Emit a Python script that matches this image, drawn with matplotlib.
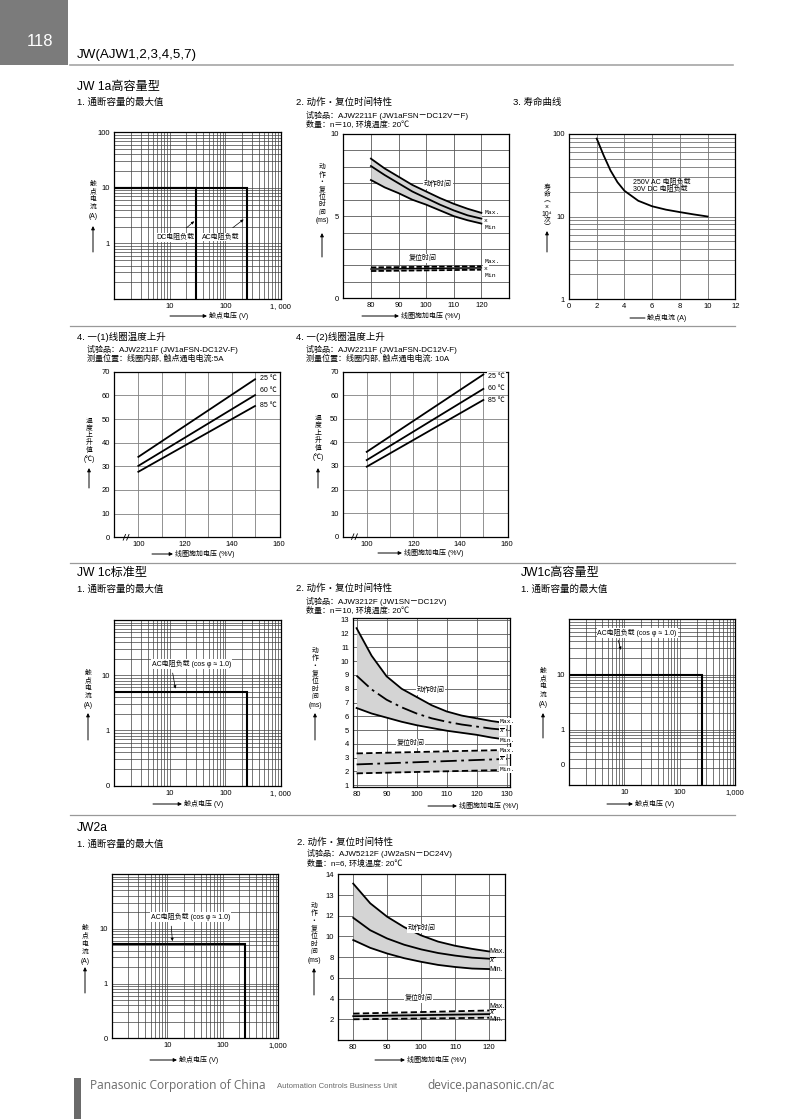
import numpy as np
import matplotlib.pyplot as plt
from matplotlib.patches import Rectangle, FancyArrowPatch
from matplotlib.lines import Line2D
from matplotlib.ticker import FixedLocator, NullFormatter

plt.rcParams['font.family'] = ['Liberation Sans', 'Noto Sans CJK SC']
plt.rcParams['axes.unicode_minus'] = False

# ---------------- data ----------------
# JW1a high capacity: max switching capacity (V, A)
dc1a_v = [1, 30, 30]
dc1a_i = [10, 10, 0.1]
ac1a_v = [1, 250, 250]
ac1a_i = [10, 10, 0.1]

# JW1a operate / release time (ms) vs coil voltage (%V)
v1a = [80, 85, 90, 95, 100, 105, 110, 115, 120]
op1a_max = [8.5, 7.9, 7.4, 6.9, 6.5, 6.1, 5.75, 5.45, 5.2]
op1a_avg = [8.05, 7.5, 7.0, 6.5, 6.1, 5.7, 5.35, 5.05, 4.85]
op1a_min = [7.2, 6.75, 6.4, 6.0, 5.7, 5.35, 5.0, 4.75, 4.55]
v1a_rel = [80, 120]
rel1a_max = [1.88, 1.95]
rel1a_avg = [1.78, 1.85]
rel1a_min = [1.66, 1.74]

# JW1a life curve
life_i = [2, 2.5, 3, 3.5, 4, 5, 6, 7, 8, 9, 10]
life_n = [88, 55, 36, 26, 20.5, 15.5, 13.3, 12.1, 11.3, 10.6, 10.0]

# coil temperature rise (deg C) vs coil voltage (%V)
v_coil = [100, 150]
rise5_25 = [34, 66.8]
rise5_60 = [30.2, 60.1]
rise5_85 = [27.7, 55.5]
rise10_25 = [36, 68.8]
rise10_60 = [32.5, 62.7]
rise10_85 = [29.7, 58.0]
temp_names = ['25 ℃', '60 ℃', '85 ℃']

# JW1c standard: max switching capacity
ac1c_v = [1, 250, 250]
ac1c_i = [5, 5, 0.1]

# JW1c operate / release time
v1c = [80, 85, 90, 95, 100, 105, 110, 115, 120, 125, 130]
op1c_max = [12.4, 10.4, 8.9, 8.0, 7.4, 6.8, 6.35, 6.05, 5.85, 5.65, 5.5]
op1c_avg = [8.95, 7.95, 7.2, 6.65, 6.2, 5.85, 5.6, 5.4, 5.25, 5.1, 5.0]
op1c_min = [6.6, 6.2, 5.9, 5.6, 5.35, 5.15, 4.95, 4.8, 4.65, 4.45, 4.3]
v1c_rel = [80, 130]
rel1c_max = [3.3, 3.55]
rel1c_avg = [2.5, 2.9]
rel1c_min = [1.85, 2.1]

# JW1c high capacity
ac1ch_v = [1, 250, 250]
ac1ch_i = [10, 10, 0.1]

# JW2a capacity
ac2a_v = [1, 250, 250]
ac2a_i = [5.2, 5.2, 0.1]

# JW2a operate / release time (positions on the printed scale)
v2a = [80, 85, 90, 95, 100, 105, 110, 115, 120]
op2a_max = [15.1, 13.2, 11.9, 10.9, 10.1, 9.5, 9.1, 8.8, 8.55]
op2a_avg = [11.8, 10.6, 9.8, 9.2, 8.75, 8.4, 8.15, 7.95, 7.85]
op2a_min = [9.65, 8.9, 8.35, 7.9, 7.55, 7.25, 7.05, 6.9, 6.85]
v2a_rel = [80, 120]
rel2a_max = [2.55, 2.85]
rel2a_avg = [2.3, 2.5]
rel2a_min = [2.0, 2.15]
ytick2a = [2, 4, 6, 8, 10, 12, 14, 16]
ylab2a = ['2', '4', '6', '8', '10', '12', '13', '14']

# vertical axis captions, one glyph group per line
cap_current = ['触', '点', '电', '流', '(A)']
cap_time = ['动', '作', '・', '复', '位', '时', '间', '(ms)']
cap_life = ['寿', '命', '︵', '×', '10⁴', '次', '︶']
cap_temp = ['温', '度', '上', '升', '值', '(℃)']

# ---------------- layout helpers ----------------
W, H = 800, 1119
fig = plt.figure(figsize=(8, 11.19), dpi=100)
fig.patch.set_facecolor('white')


def to_fig(x, y):
    return x / W, 1 - y / H


def panel(l, t, r, b):
    ax = fig.add_axes([l / W, 1 - b / H, (r - l) / W, (b - t) / H])
    for s in ax.spines.values():
        s.set_linewidth(0.9)
    ax.tick_params(which='both', length=0, labelsize=5.5, pad=3)
    ax.set_axisbelow(True)
    ax.xaxis.remove_overlapping_locs = False
    ax.yaxis.remove_overlapping_locs = False
    return ax


def gridlines(ax, xs, ys, color='0.3', lw=0.5):
    ax.xaxis.set_minor_locator(FixedLocator(xs))
    ax.yaxis.set_minor_locator(FixedLocator(ys))
    ax.xaxis.set_minor_formatter(NullFormatter())
    ax.yaxis.set_minor_formatter(NullFormatter())
    ax.grid(which='minor', color=color, lw=lw)
    ax.grid(which='major', visible=False)


def ftext(x, y, s, size=6, ha='left', **kw):
    fig.text(x / W, 1 - y / H, s, fontsize=size, ha=ha, va='center', **kw)


def farrow(x0, y0, x1, y1, head=True):
    fig.add_artist(FancyArrowPatch(to_fig(x0, y0), to_fig(x1, y1),
                                   transform=fig.transFigure,
                                   arrowstyle='-|>' if head else '-',
                                   mutation_scale=5, lw=0.7, color='k',
                                   shrinkA=0, shrinkB=0))


def vlabel(x, y0, step, parts, arrow):
    for k, p in enumerate(parts):
        extra = 1.5 if p.startswith('(') and len(p) > 1 else 0
        ftext(x, y0 + k * step + extra, p, size=4.9, ha='center')
    farrow(x, arrow[0], x, arrow[1])


def hlabel(x0, x1, y, s, head=True):
    farrow(x0, y, x1, y, head)
    ftext(x1 + 2, y, s, size=5)


def hline(y, x0=70, x1=735, color='0.6', lw=0.9):
    fig.add_artist(Line2D([x0 / W, x1 / W], [1 - y / H] * 2, color=color, lw=lw))


log_x = [m * 10.0 ** e for e in range(0, 3) for m in range(1, 10)] + [1000]
log_y = [m * 10.0 ** e for e in range(-1, 2) for m in range(1, 10)] + [100]
log_life = [m * 10.0 ** e for e in range(0, 2) for m in range(1, 10)] + [100]
white = dict(facecolor='white', edgecolor='none', pad=0.6)


def capacity(box, yt, yl, xl):
    ax = panel(*box)
    ax.set_xscale('log')
    ax.set_yscale('log')
    ax.set_xlim(1, 1000)
    ax.set_ylim(0.1, 100)
    ax.set_xticks([10, 100, 1000], xl)
    ax.set_yticks(yt, yl)
    gridlines(ax, log_x, log_y, color='0.25', lw=0.5)
    return ax


# ---------------- header / footer ----------------
fig.add_artist(Rectangle(to_fig(0, 65), 68 / W, 65 / H, transform=fig.transFigure,
                         facecolor='#7b7b7b', edgecolor='none'))
ftext(40, 41, '118', size=12, ha='center', color='white')
ftext(77, 55, 'JW(AJW1,2,3,4,5,7)', size=9.6)
hline(65, 70, 733, color='0.65', lw=1.2)
hline(326)
hline(563)
hline(815)

fig.add_artist(Rectangle(to_fig(74, 1119), 7 / W, 41 / H, transform=fig.transFigure,
                         facecolor='#6a6a6a', edgecolor='none'))
ftext(90, 1086, 'Panasonic Corporation of China', size=8.6, color='0.42', family='Open Sans')
ftext(277, 1086, 'Automation Controls Business Unit', size=5.6, color='0.42')
ftext(427, 1086, 'device.panasonic.cn/ac', size=8.6, color='0.42', family='Open Sans')

# ---------------- JW1a high capacity ----------------
ftext(77, 87, 'JW 1a高容量型', size=8.7)
ftext(77, 102, '1. 通断容量的最大值', size=6.8)

ax = capacity((114.3, 132.3, 280.7, 299), [1, 10, 100], ['1', '10', '100'], ['10', '100', '1, 000'])
ax.plot(dc1a_v, dc1a_i, color='k', lw=1.5, solid_joinstyle='miter')
ax.plot(ac1a_v, ac1a_i, color='k', lw=1.5, solid_joinstyle='miter')
ax.annotate('DC电阻负载', xy=(30, 2.7), xytext=(12.5, 1.27), fontsize=5, ha='center', va='center',
            bbox=white, arrowprops=dict(arrowstyle='-|>', lw=0.5, color='k', mutation_scale=4, shrinkA=6))
ax.annotate('AC电阻负载', xy=(235, 2.9), xytext=(82, 1.3), fontsize=5, ha='center', va='center',
            bbox=white, arrowprops=dict(arrowstyle='-|>', lw=0.5, color='k', mutation_scale=4, shrinkA=6))
vlabel(93, 184.5, 7.6, cap_current, (252, 226))
hlabel(170, 207, 316, '触点电压 (V)')

# operate / release time JW1a
ftext(296, 102, '2. 动作・复位时间特性', size=6.8)
ftext(306, 115, '试验品：AJW2211F (JW1aFSN－DC12V－F)', size=5.8)
ftext(306, 125, '数量：n＝10, 环境温度: 20℃', size=5.8)

ax = panel(343.3, 134, 509, 298.3)
ax.set_xlim(70, 130)
ax.set_ylim(0, 10)
ax.set_xticks([80, 90, 100, 110, 120])
ax.set_yticks([0, 5, 10])
gridlines(ax, [80, 90, 100, 110, 120], list(range(0, 11)), color='0.35', lw=0.6)
ax.fill_between(v1a, op1a_min, op1a_max, color='#d4d4d4', lw=0)
for ys in (op1a_max, op1a_avg, op1a_min):
    ax.plot(v1a, ys, color='k', lw=1.3)
ax.fill_between(v1a_rel, rel1a_min, rel1a_max, color='#d4d4d4', lw=0)
ax.plot(v1a_rel, rel1a_max, color='k', lw=1.3, ls=(0, (3, 1.2)))
ax.plot(v1a_rel, rel1a_avg, color='k', lw=1.0)
ax.plot(v1a_rel, rel1a_min, color='k', lw=1.3, ls=(0, (3, 1.2)))
ax.text(104.2, 6.95, '动作时间', fontsize=5, ha='center', va='center', bbox=white)
ax.text(98.8, 2.45, '复位时间', fontsize=5, ha='center', va='center', bbox=white)
for yv, s in zip([5.2, 4.72, 4.3, 2.25, 1.83, 1.38], ['Max.', 'x', 'Min', 'Max.', 'x', 'Min']):
    ax.text(121, yv, s, fontsize=4.6, family='Liberation Mono', va='center', bbox=white)
vlabel(322, 167.7, 7.4, cap_time, (257, 233))
hlabel(362, 399, 316, '线圈施加电压 (%V)')

# life curve
ftext(513, 102, '3. 寿命曲线', size=6.8)
ax = panel(569, 134, 735.3, 299)
ax.set_yscale('log')
ax.set_xlim(0, 12)
ax.set_ylim(1, 100)
ax.set_xticks(list(range(0, 13, 2)))
ax.set_yticks([1, 10, 100], ['1', '10', '100'])
gridlines(ax, [2, 4, 6, 8, 10], log_life, color='0.45', lw=0.6)
ax.plot(life_i, life_n, color='k', lw=1.3)
ax.text(4.65, 23.5, '250V AC 电阻负载\n30V DC 电阻负载', fontsize=5, va='center', linespacing=1.0)
vlabel(547, 188, 6.6, cap_life, (252, 231))
hlabel(630, 645, 318, '触点电流 (A)', head=False)


# ---------------- coil temperature rise ----------------
def temp_panel(box, rises, label_y):
    ax = panel(*box)
    ax.set_xlim(89.7, 160.7)
    ax.set_ylim(0, 70)
    ax.set_xticks([100, 120, 140, 160])
    ax.set_yticks(list(range(0, 71, 10)))
    gridlines(ax, [100, 110, 120, 130, 140, 150], list(range(10, 70, 10)), color='0.5', lw=0.6)
    for r, name, ly in zip(rises, temp_names, label_y):
        ax.plot(v_coil, r, color='k', lw=1.3)
        ax.text(152, ly, name, fontsize=5, va='center', bbox=white)
    # axis break mark
    ax.plot([93.5, 94.5], [-1.2, 1.2], color='k', lw=0.6, clip_on=False)
    ax.plot([95, 96], [-1.2, 1.2], color='k', lw=0.6, clip_on=False)
    return ax


ftext(77, 337, '4. 一(1)线圈温度上升', size=6.8)
ftext(87, 349, '试验品：AJW2211F (JW1aFSN-DC12V-F)', size=5.8)
ftext(87, 359, '测量位置：线圈内部, 触点通电电流:5A', size=5.8)
temp_panel((114.3, 371.7, 280, 537.3), [rise5_25, rise5_60, rise5_85], [67.2, 62, 55.9])
vlabel(89, 421, 7.3, cap_temp, (488, 468))
hlabel(152, 173, 554, '线圈施加电压 (%V)')

ftext(296, 337, '4. 一(2)线圈温度上升', size=6.8)
ftext(306, 349, '试验品：AJW2211F (JW1aFSN-DC12V-F)', size=5.8)
ftext(306, 359, '测量位置：线圈内部, 触点通电电流: 10A', size=5.8)
temp_panel((342.7, 371.7, 508.3, 536.7), [rise10_25, rise10_60, rise10_85], [67.9, 62.9, 57.6])
vlabel(318, 418.5, 7.4, cap_temp, (488, 468))
hlabel(378, 402, 553, '线圈施加电压 (%V)')

# ---------------- JW1c standard ----------------
ftext(77, 573, 'JW 1c标准型', size=8.7)
ftext(77, 589, '1. 通断容量的最大值', size=6.8)
ax = capacity((114.3, 620, 280.7, 785.7), [0.1, 1, 10], ['0', '1', '10'], ['10', '100', '1, 000'])
ax.plot(ac1c_v, ac1c_i, color='k', lw=1.5, solid_joinstyle='miter')
ax.annotate('AC电阻负载 (cos φ ≈ 1.0)', xy=(12.9, 5.1), xytext=(24.8, 15.9), fontsize=5,
            ha='center', va='center', bbox=white,
            arrowprops=dict(arrowstyle='-|>', lw=0.5, color='k', mutation_scale=4,
                            shrinkA=3, relpos=(0.25, 0)))
vlabel(88, 673.5, 7.7, cap_current, (740, 713))
hlabel(153, 182, 804, '触点电压 (V)')

ftext(296, 588, '2. 动作・复位时间特性', size=6.8)
ftext(306, 601, '试验品：AJW3212F (JW1SN－DC12V)', size=5.8)
ftext(306, 611, '数量：n＝10, 环境温度: 20℃', size=5.8)
ax = panel(353.3, 618.3, 510, 786.7)
ax.set_xlim(78.9, 131.1)
ax.set_ylim(0.88, 13.12)
ax.set_xticks(list(range(80, 131, 10)))
ax.set_yticks(list(range(1, 14)))
gridlines(ax, list(range(80, 131, 10)), list(range(1, 14)), color='0.35', lw=0.6)
dashdot = (0, (9, 2.5, 1.5, 2.5))
ax.fill_between(v1c, op1c_min, op1c_max, color='#d4d4d4', lw=0)
ax.plot(v1c, op1c_max, color='k', lw=1.3)
ax.plot(v1c, op1c_avg, color='k', lw=1.3, ls=dashdot)
ax.plot(v1c, op1c_min, color='k', lw=1.3)
ax.fill_between(v1c_rel, rel1c_min, rel1c_max, color='#d4d4d4', lw=0)
ax.plot(v1c_rel, rel1c_max, color='k', lw=1.3, ls=(0, (3.5, 1.8)))
ax.plot(v1c_rel, rel1c_avg, color='k', lw=1.3, ls=dashdot)
ax.plot(v1c_rel, rel1c_min, color='k', lw=1.3, ls=(0, (3.5, 1.8)))
ax.text(104.6, 7.85, '动作时间', fontsize=5, ha='center', va='center', bbox=white)
ax.text(97.9, 4.0, '复位时间', fontsize=5, ha='center', va='center', bbox=white)
for yv, s in zip([5.6, 4.95, 4.27, 3.5, 2.87, 2.14],
                 ['Max.', r'$\overline{x}$', 'Min.', 'Max.', r'$\overline{x}$', 'Min.']):
    ax.text(127.6, yv, s, fontsize=4.6, family='Liberation Mono', va='center', bbox=white)
vlabel(315, 651, 7.6, cap_time, (740, 713))
hlabel(428, 457, 806, '线圈施加电压 (%V)')

# ---------------- JW1c high capacity ----------------
ftext(521, 573, 'JW1c高容量型', size=8.7)
ftext(521, 589, '1. 通断容量的最大值', size=6.8)
ax = capacity((569, 619.3, 735.3, 785), [0.234, 1, 10], ['0', '1', '10'], ['10', '100', '1,000'])
ax.plot(ac1ch_v, ac1ch_i, color='k', lw=1.5, solid_joinstyle='miter')
ax.annotate('AC电阻负载 (cos φ ≈ 1.0)', xy=(8.9, 25), xytext=(16.9, 57), fontsize=5,
            ha='center', va='center', bbox=white,
            arrowprops=dict(arrowstyle='-|>', lw=0.5, color='k', mutation_scale=4,
                            shrinkA=2, relpos=(0.25, 0)))
vlabel(543, 671, 8.0, cap_current, (738, 713))
hlabel(607, 633, 804, '触点电压 (V)')

# ---------------- JW2a ----------------
ftext(77, 828, 'JW2a', size=8.7)
ftext(77, 844, '1. 通断容量的最大值', size=6.8)
ax = capacity((111.7, 874, 278.3, 1038.3), [0.1, 1, 10], ['0', '1', '10'], ['10', '100', '1,000'])
ax.plot(ac2a_v, ac2a_i, color='k', lw=1.5, solid_joinstyle='miter')
ax.annotate('AC电阻负载 (cos φ ≈ 1.0)', xy=(12.5, 5.3), xytext=(26.5, 16.3), fontsize=5,
            ha='center', va='center', bbox=white,
            arrowprops=dict(arrowstyle='-|>', lw=0.5, color='k', mutation_scale=4,
                            shrinkA=3, relpos=(0.25, 0)))
vlabel(85, 928, 8.0, cap_current, (993, 967))
hlabel(150, 177, 1060, '触点电压 (V)')

ftext(297, 842, '2. 动作・复位时间特性', size=6.8)
ftext(307, 854, '试验品：AJW5212F (JW2aSN－DC24V)', size=5.8)
ftext(307, 864, '数量：n=6, 环境温度: 20℃', size=5.8)
ax = panel(338.3, 874.3, 505, 1040)
ax.set_xlim(75.6, 124.7)
ax.set_ylim(0, 16)
ax.set_xticks(list(range(80, 121, 10)))
ax.set_yticks(ytick2a, ylab2a)
gridlines(ax, list(range(80, 121, 10)), ytick2a[:-1], color='0.35', lw=0.6)
ax.fill_between(v2a, op2a_min, op2a_max, color='#d4d4d4', lw=0)
for ys in (op2a_max, op2a_avg, op2a_min):
    ax.plot(v2a, ys, color='k', lw=1.3)
ax.fill_between(v2a_rel, rel2a_min, rel2a_max, color='#d4d4d4', lw=0)
ax.plot(v2a_rel, rel2a_max, color='k', lw=1.3, ls=(0, (3.5, 1.8)))
ax.plot(v2a_rel, rel2a_avg, color='k', lw=1.3)
ax.plot(v2a_rel, rel2a_min, color='k', lw=1.3, ls=(0, (3.5, 1.8)))
ax.text(100.1, 10.77, '动作时间', fontsize=5, ha='center', va='center', bbox=white)
ax.text(99.2, 4.0, '复位时间', fontsize=5, ha='center', va='center', bbox=white)
for yv, s in zip([8.55, 7.7, 6.84, 3.25, 2.65, 2.0],
                 ['Max.', r'$\overline{x}$', 'Min.', 'Max.', r'$\overline{x}$', 'Min.']):
    ax.text(120.1, yv, s, fontsize=5, va='center')
vlabel(314, 906, 7.6, cap_time, (995, 968))
hlabel(375, 405, 1060, '线圈施加电压 (%V)')

fig.savefig('out.png', dpi=100)
